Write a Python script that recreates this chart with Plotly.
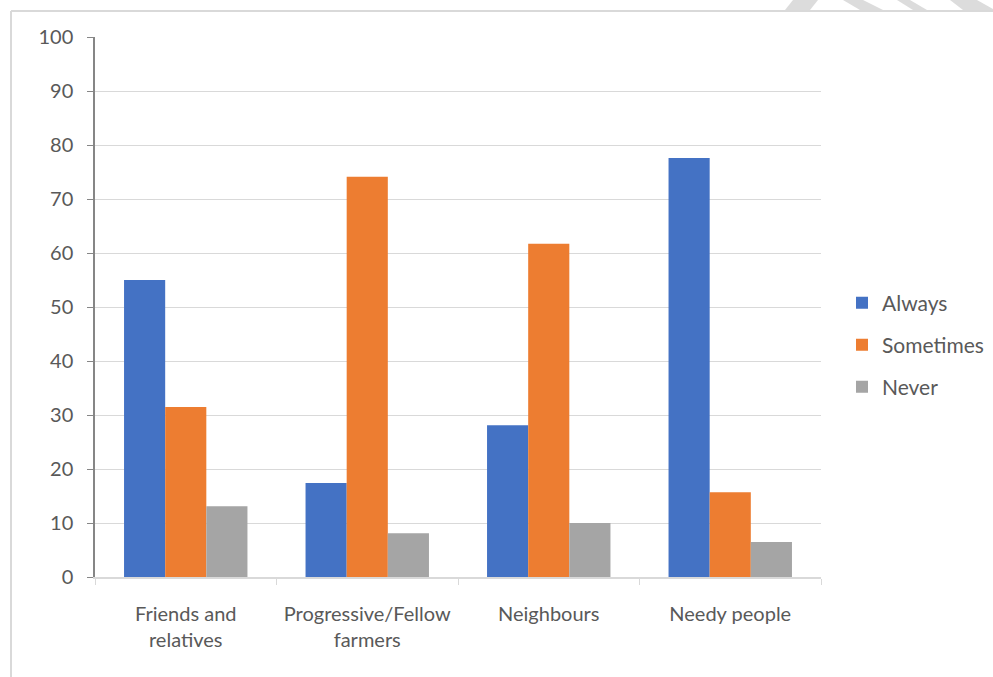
import plotly.graph_objects as go

categories = ["Friends and<br>relatives", "Progressive/Fellow<br>farmers", "Neighbours", "Needy people"]
always = [55.0, 17.4, 28.1, 77.6]
sometimes = [31.5, 74.1, 61.7, 15.7]
never = [13.1, 8.1, 10.0, 6.5]
series_names = ["Always", "Sometimes", "Never"]
colors = ["#4472C4", "#ED7D31", "#A5A5A5"]
y_ticks = list(range(0, 101, 10))

W, H = 993, 677
l, r, t, b = 95, 172, 37, 100
pw, ph = W - l - r, H - t - b

def px_x(p):
    return (p - l) / pw

def px_y(p):
    return (H - b - p) / ph

legend_ids = ["legend", "legend2", "legend3"]
legend_centers = [303, 345, 387]

fig = go.Figure()
for name, vals, c, lid in zip(series_names, [always, sometimes, never], colors, legend_ids):
    fig.add_trace(go.Bar(x=categories, y=vals, name=name, legend=lid,
                         marker=dict(color=c, line=dict(width=0))))

legend_style = dict(xanchor="left", yanchor="middle", font=dict(size=21, color="#595959"),
                    itemwidth=30, bgcolor="rgba(0,0,0,0)")
layout_legends = {}
for lid, cy in zip(legend_ids, legend_centers):
    layout_legends[lid] = dict(x=px_x(842), y=px_y(cy), **legend_style)

# hatch watermark stripes at top right (pixel polygons)
stripes = [
    [(793, 0), (818, 0), (810, 10), (785, 10)],
    [(843, 0), (863, 0), (883, 10), (860, 10)],
    [(897, 0), (910, 0), (927, 10), (913, 10)],
    [(950, 0), (977, 0), (995, 10), (963, 10)],
]
shapes = []
for poly in stripes:
    path = "M " + " L ".join(f"{px_x(x):.5f},{px_y(y):.5f}" for x, y in poly) + " Z"
    shapes.append(dict(type="path", xref="paper", yref="paper", path=path,
                       fillcolor="#DCDCDC", line=dict(width=0), layer="below"))
shapes += [
    dict(type="line", xref="paper", yref="paper", x0=px_x(11), x1=px_x(1000), y0=px_y(11), y1=px_y(11),
         line=dict(color="#D9D9D9", width=2), layer="below"),
    dict(type="line", xref="paper", yref="paper", x0=px_x(11), x1=px_x(11), y0=px_y(11), y1=px_y(690),
         line=dict(color="#D9D9D9", width=2), layer="below"),
]

fig.update_layout(
    width=W, height=H,
    margin=dict(l=l, r=r, t=t, b=b, autoexpand=False),
    paper_bgcolor="white", plot_bgcolor="white",
    barmode="group", bargap=0.32, bargroupgap=0,
    font=dict(family="Lato, Open Sans, sans-serif", size=21, color="#595959"),
    showlegend=True,
    shapes=shapes,
    **layout_legends,
)
fig.update_yaxes(range=[0, 100], tickvals=y_ticks, showgrid=True, gridcolor="#D9D9D9", gridwidth=1,
                 showline=True, linecolor="#868686", linewidth=1.5, ticks="outside", ticklen=6,
                 tickcolor="#868686", zeroline=False, tickfont=dict(size=20, color="#595959"),
                 ticklabelstandoff=10)
fig.update_xaxes(showline=True, linecolor="#D9D9D9", linewidth=1.5, ticks="outside", ticklen=6,
                 tickcolor="#D9D9D9", tickson="boundaries", tickfont=dict(size=20, color="#595959"),
                 tickangle=0, ticklabelstandoff=18)

fig.write_html("out.html")
